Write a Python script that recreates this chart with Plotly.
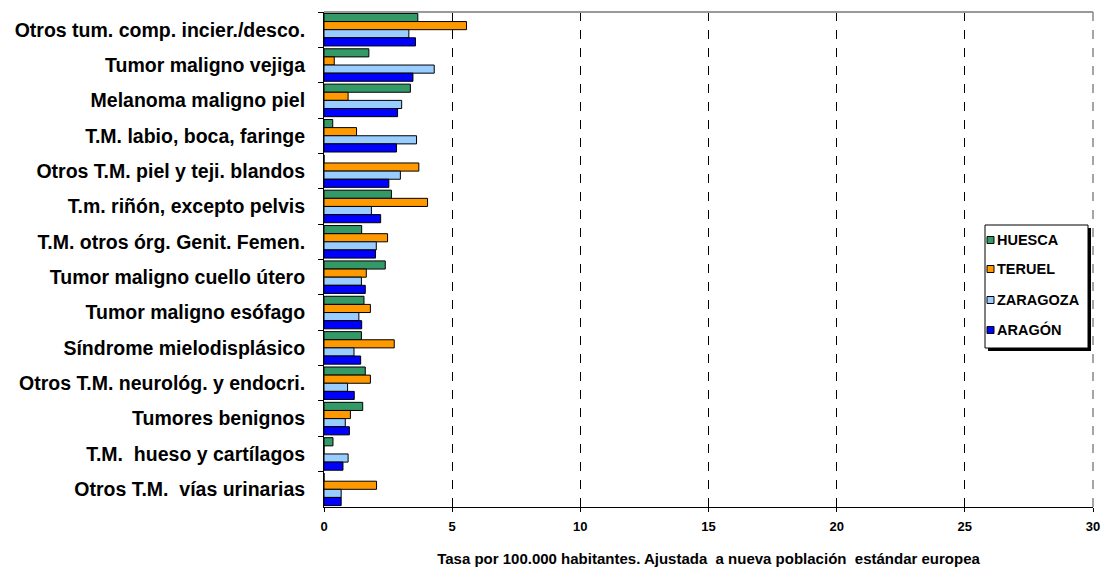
import plotly.graph_objects as go

categories = [
    "Otros tum. comp. incier./desco.",
    "Tumor maligno vejiga",
    "Melanoma maligno piel",
    "T.M. labio, boca, faringe",
    "Otros T.M. piel y teji. blandos",
    "T.m. riñón, excepto pelvis",
    "T.M. otros órg. Genit. Femen.",
    "Tumor maligno cuello útero",
    "Tumor maligno esófago",
    "Síndrome mielodisplásico",
    "Otros T.M. neurológ. y endocri.",
    "Tumores benignos",
    "T.M.  hueso y cartílagos",
    "Otros T.M.  vías urinarias",
]
huesca = [3.66, 1.75, 3.37, 0.34, 0.0, 2.63, 1.47, 2.39, 1.56, 1.46, 1.61, 1.51, 0.35, 0.0]
teruel = [5.56, 0.40, 0.94, 1.27, 3.70, 4.04, 2.48, 1.65, 1.81, 2.74, 1.81, 1.03, 0.0, 2.05]
zaragoza = [3.31, 4.30, 3.03, 3.61, 2.98, 1.85, 2.04, 1.46, 1.36, 1.17, 0.92, 0.83, 0.94, 0.67]
aragon = [3.57, 3.47, 2.87, 2.83, 2.53, 2.21, 2.01, 1.61, 1.47, 1.43, 1.18, 0.99, 0.74, 0.67]
series_names = ["HUESCA", "TERUEL", "ZARAGOZA", "ARAGÓN"]
x_ticks = [0, 5, 10, 15, 20, 25, 30]
x_title = "Tasa por 100.000 habitantes. Ajustada\u00a0 a nueva población\u00a0 estándar europea"

colors = ["#339966", "#FF9900", "#99CCFF", "#0000FF"]
FONT = "Arial, Liberation Sans, sans-serif"

W, H = 1105, 567
ML, MR, MT, MB = 324, 12, 12, 60
PW, PH = W - ML - MR, H - MT - MB


def px(xs):
    # screen x pixel -> paper coordinate
    return (xs - ML) / PW


def py(ys):
    # screen y pixel -> paper coordinate
    return (H - MB - ys) / PH


fig = go.Figure()
for i, (name, vals) in enumerate(zip(series_names, [huesca, teruel, zaragoza, aragon])):
    fig.add_trace(go.Bar(
        y=categories, x=vals, name=name, orientation="h",
        marker=dict(color=colors[i], line=dict(color="#000000", width=1)),
    ))

fig.update_layout(
    width=W, height=H,
    margin=dict(l=ML, r=MR, t=MT, b=MB, autoexpand=False),
    paper_bgcolor="white", plot_bgcolor="white",
    barmode="group", bargap=0.08, bargroupgap=0,
    font=dict(family=FONT, color="black"),
    showlegend=False,
    xaxis=dict(
        range=[0, 30], tickvals=x_ticks, ticktext=[str(t) for t in x_ticks],
        showgrid=True, gridcolor="black", griddash="dash", gridwidth=1,
        showline=True, linecolor="black", linewidth=1,
        ticks="outside", ticklen=4, tickcolor="black",
        tickfont=dict(family=FONT, size=13, weight="bold"),
        ticklabelstandoff=3,
        zeroline=False,
        title=dict(text=x_title,
                   font=dict(family=FONT, size=15, weight="bold"), standoff=20),
    ),
    yaxis=dict(
        autorange="reversed", type="category",
        showline=True, linecolor="black", linewidth=1,
        ticks="outside", ticklen=5, tickcolor="black", tickson="boundaries",
        tickfont=dict(family=FONT, size=19.5, weight="bold"),
        ticklabelstandoff=14,
        showgrid=False,
    ),
)

# top border (gray solid) and right border (gray dashed)
fig.add_shape(type="line", xref="paper", yref="paper", x0=0, x1=1, y0=1, y1=1,
              line=dict(color="#999999", width=2), layer="above")
fig.add_shape(type="line", xref="paper", yref="paper", x0=1, x1=1, y0=0, y1=1,
              line=dict(color="#888888", width=1.5, dash="dash"), layer="above")

# custom legend: shadow, box, swatches, labels (screen pixel positions)
LX0, LX1, LY0, LY1 = 985, 1088, 225, 348
fig.add_shape(type="rect", xref="paper", yref="paper",
              x0=px(LX0 + 3), x1=px(LX1 + 3), y0=py(LY1 + 3), y1=py(LY0 + 3),
              fillcolor="black", line=dict(width=0), layer="above")
fig.add_shape(type="rect", xref="paper", yref="paper",
              x0=px(LX0), x1=px(LX1), y0=py(LY1), y1=py(LY0),
              fillcolor="white", line=dict(color="black", width=1), layer="above")
item_y = [240, 269, 300, 330]
for i, name in enumerate(series_names):
    yc = item_y[i]
    fig.add_shape(type="rect", xref="paper", yref="paper",
                  x0=px(987), x1=px(994), y0=py(yc + 3.5), y1=py(yc - 3.5),
                  fillcolor=colors[i], line=dict(color="black", width=1), layer="above")
    fig.add_annotation(x=px(995), y=py(yc), xref="paper", yref="paper",
                       text=name, showarrow=False, xanchor="left", yanchor="middle",
                       font=dict(family=FONT, size=14.5, weight="bold", color="black"))

fig.write_html(
    "out.html",
    config={"displayModeBar": False},
    post_script="document.body.style.margin='0';document.body.style.overflow='hidden';",
)
